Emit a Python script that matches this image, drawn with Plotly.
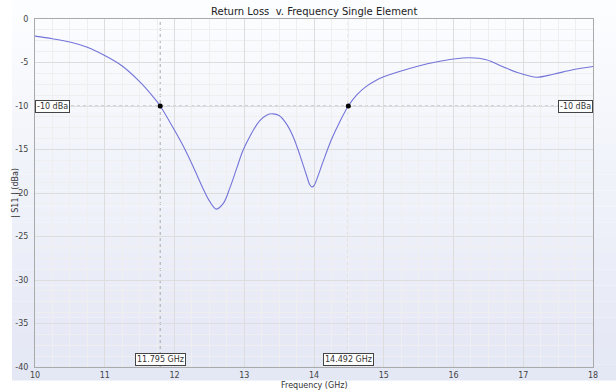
import plotly.graph_objects as go

freq = [10.0, 10.25, 10.5, 10.75, 11.0, 11.25, 11.5, 11.7, 11.795, 11.98, 12.125, 12.27, 12.41, 12.5,
        12.6, 12.7, 12.79, 12.89, 12.98, 13.08, 13.22, 13.32, 13.41, 13.5, 13.6, 13.70, 13.80, 13.89, 13.94,
        13.97, 14.0, 14.05, 14.13, 14.25, 14.37, 14.492, 14.61, 14.75, 14.88, 15.0, 15.25, 15.5, 15.75, 16.0,
        16.23, 16.47, 16.71, 16.95, 17.19, 17.43, 17.71, 18.0]
s11 = [-1.97, -2.27, -2.65, -3.25, -4.2, -5.4, -7.2, -9.0, -10.0, -12.5, -14.6, -17.0, -19.5, -20.9,
       -21.85, -21.2, -19.5, -17.2, -15.15, -13.5, -11.7, -11.05, -10.9, -11.1, -12.0, -13.5, -15.7, -17.9, -19.05,
       -19.3, -19.15, -18.2, -16.4, -13.85, -11.8, -10.0, -8.75, -7.75, -7.1, -6.65, -5.98, -5.4, -4.94, -4.6,
       -4.46, -4.68, -5.5, -6.24, -6.69, -6.35, -5.83, -5.46]

marker_freq = [11.795, 14.492]
marker_labels = ["11.795 GHz", "14.492 GHz"]
threshold = -10
threshold_label = "-10 dBa"

x_ticks = [10, 11, 12, 13, 14, 15, 16, 17, 18]
y_ticks = [0, -5, -10, -15, -20, -25, -30, -35, -40]

W, H = 616, 392
L, R, T, B = 35, 23, 19, 14
pw, ph = W - L - R, H - T - B

def px(xp):
    return (xp - L) / pw

def py(yp):
    return (H - B - yp) / ph

fig = go.Figure()

fig.add_trace(go.Scatter(x=freq, y=s11, mode="lines",
                         line=dict(color="#7474d8", width=1.1, shape="spline", smoothing=1.0),
                         hoverinfo="skip", showlegend=False))
fig.add_trace(go.Scatter(x=marker_freq, y=[threshold] * len(marker_freq), mode="markers",
                         marker=dict(color="black", size=5), showlegend=False))

shapes = []
n = 24
for i in range(n):
    y0 = i * H / n
    y1 = (i + 1) * H / n
    t = i / (n - 1)
    r = int(252 - t * (252 - 228))
    g = int(253 - t * (253 - 232))
    b = int(255 - t * (255 - 245))
    shapes.append(dict(type="rect", xref="paper", yref="paper", x0=px(12), x1=px(W), y0=py(y1), y1=py(y0),
                       fillcolor=f"rgb({r},{g},{b})", line=dict(width=0), layer="below"))
shapes.append(dict(type="line", xref="x", yref="y", x0=10, x1=18, y0=threshold, y1=threshold,
                   line=dict(color="#aaaaaa", width=1, dash="dot"), layer="below"))
for f in marker_freq:
    shapes.append(dict(type="line", xref="x", yref="y", x0=f, x1=f, y0=-40, y1=0,
                       line=dict(color="#aaaaaa", width=1, dash="dot"), layer="below"))

annotations = []
box = dict(bgcolor="white", bordercolor="#444444", borderwidth=1, borderpad=1,
           font=dict(size=8, color="#333333", family="DejaVu Sans"), showarrow=False)
annotations.append(dict(x=10, y=threshold, xref="x", yref="y", text=threshold_label, xanchor="left", yanchor="middle", **box))
annotations.append(dict(x=18, y=threshold, xref="x", yref="y", text=threshold_label, xanchor="right", yanchor="middle", **box))
for f, lab in zip(marker_freq, marker_labels):
    annotations.append(dict(x=f, y=-40, xref="x", yref="y", text=lab, xanchor="center", yanchor="bottom", yshift=1, **box))

annotations.append(dict(x=0.5, y=0, xref="paper", yref="paper", text="Frequency (GHz)", showarrow=False,
                        xanchor="center", yanchor="top", yshift=-12, font=dict(size=8, color="#333333", family="DejaVu Sans")))
annotations.append(dict(x=0, y=0.5, xref="paper", yref="paper", text="| S11 | (dBa)", showarrow=False, textangle=-90,
                        xanchor="center", yanchor="middle", xshift=-20, font=dict(size=8, color="#333333", family="DejaVu Sans")))
annotations.append(dict(x=0.5, y=1, xref="paper", yref="paper", text="Return Loss\u00a0 v. Frequency Single Element",
                        showarrow=False, xanchor="center", yanchor="bottom", yshift=0,
                        font=dict(size=10, color="#222222", family="DejaVu Sans")))

fig.update_layout(
    width=W, height=H,
    margin=dict(l=L, r=R, t=T, b=B, pad=0),
    paper_bgcolor="white", plot_bgcolor="white",
    shapes=shapes, annotations=annotations,
    font=dict(family="DejaVu Sans", size=8, color="#444444"),
    xaxis=dict(range=[10, 18], tickvals=x_ticks, ticktext=[str(v) for v in x_ticks], showgrid=True,
               gridcolor="#dddddd", gridwidth=1, zeroline=False, showline=True, linecolor="#aaaaaa", mirror=True,
               ticks="", ticklabelstandoff=0, tickfont=dict(size=8),
               minor=dict(dtick=0.25, tick0=10, showgrid=True, gridcolor="#efefef")),
    yaxis=dict(range=[-40, 0], tickvals=y_ticks, ticktext=[str(v) for v in y_ticks], showgrid=True,
               gridcolor="#dddddd", gridwidth=1, zeroline=False, showline=True, linecolor="#aaaaaa", mirror=True,
               ticks="", ticklabelstandoff=4, tickfont=dict(size=8),
               minor=dict(dtick=1.25, tick0=0, showgrid=True, gridcolor="#efefef")),
)

fig.write_html("out.html")
